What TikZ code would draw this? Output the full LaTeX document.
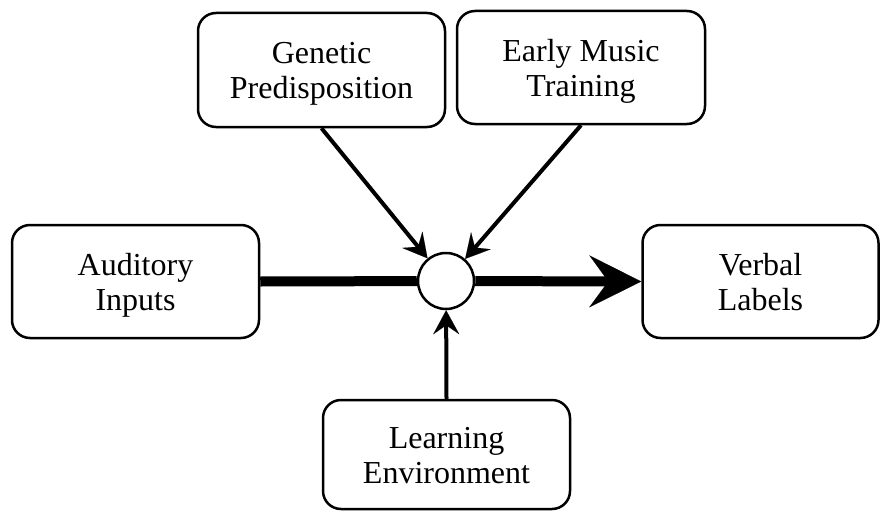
\documentclass[tikz,border=0pt]{standalone}
\usepackage{fontspec}
\setmainfont{Liberation Serif}
\usetikzlibrary{arrows.meta}
\newcommand{\topstrut}{\rule{0pt}{31pt}}
\newcommand{\botstrut}{\rule[-9pt]{0pt}{9pt}}
\begin{document}
\begin{tikzpicture}[x=1pt,y=-1pt,
  box/.style={draw, line width=2.5pt, rounded corners=18pt, inner sep=0pt,
    align=center, font=\fontsize{32}{35}\selectfont},
  thinarrow/.style={line width=4pt, -{Stealth[length=24pt,width=26pt,inset=9pt,line width=0.1pt]}},
  thickline/.style={line width=10pt},
  thickarrow/.style={line width=10pt, -{Stealth[length=52pt,width=52pt,inset=19pt,line width=0.1pt]}}]
\useasboundingbox (0,0) rectangle (880,511);
\node[box, minimum width=247pt, minimum height=114pt] (gen) at (321.5,70) {\topstrut Genetic\\Predisposition\botstrut};
\node[box, minimum width=248pt, minimum height=113pt] (emt) at (581,67.5) {\topstrut Early Music\\Training\botstrut};
\node[box, minimum width=247pt, minimum height=113pt] (aud) at (135.5,281.5) {\topstrut Auditory\\Inputs\botstrut};
\node[box, minimum width=236pt, minimum height=113pt] (verb) at (760.5,281.5) {\topstrut Verbal\\Labels\botstrut};
\node[box, minimum width=247pt, minimum height=109pt] (learn) at (446.5,454.5) {\topstrut Learning\\Environment\botstrut};
\node[draw, circle, line width=2.5pt, minimum size=56pt, inner sep=0pt, fill=white] (circ) at (446,281) {};
\draw[thickline] (aud.east) -- (circ);
\draw[thickarrow] (circ) -- (verb.west);
\draw[thinarrow] (gen.south) -- (circ);
\draw[thinarrow] (emt.south) -- (circ);
\draw[thinarrow] (learn.north) -- (circ);
\end{tikzpicture}
\end{document}
